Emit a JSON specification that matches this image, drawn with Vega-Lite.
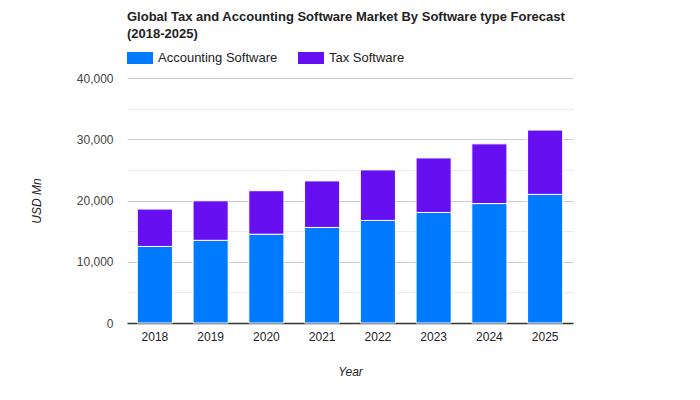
{
  "$schema": "https://vega.github.io/schema/vega-lite/v6.json",
  "width": 446,
  "height": 245,
  "autosize": {"type": "none"},
  "padding": {"left": 127, "top": 78, "right": 127, "bottom": 77},
  "background": "white",
  "title": {
    "text": ["Global Tax and Accounting Software Market By Software type Forecast", "(2018-2025)"],
    "anchor": "start",
    "frame": "group",
    "font": "Arial, Liberation Sans",
    "fontSize": 13,
    "fontWeight": "bold",
    "color": "#222222",
    "lineHeight": 17,
    "offset": 4
  },
  "config": {
    "view": {"stroke": null},
    "font": "Arial, Liberation Sans"
  },
  "data": {
    "values": [
      {"Year": "2018", "Type": "Accounting Software", "Value": 12500, "Order": 1},
      {"Year": "2018", "Type": "Tax Software", "Value": 6100, "Order": 2},
      {"Year": "2019", "Type": "Accounting Software", "Value": 13500, "Order": 1},
      {"Year": "2019", "Type": "Tax Software", "Value": 6450, "Order": 2},
      {"Year": "2020", "Type": "Accounting Software", "Value": 14500, "Order": 1},
      {"Year": "2020", "Type": "Tax Software", "Value": 7100, "Order": 2},
      {"Year": "2021", "Type": "Accounting Software", "Value": 15600, "Order": 1},
      {"Year": "2021", "Type": "Tax Software", "Value": 7600, "Order": 2},
      {"Year": "2022", "Type": "Accounting Software", "Value": 16750, "Order": 1},
      {"Year": "2022", "Type": "Tax Software", "Value": 8250, "Order": 2},
      {"Year": "2023", "Type": "Accounting Software", "Value": 18050, "Order": 1},
      {"Year": "2023", "Type": "Tax Software", "Value": 8900, "Order": 2},
      {"Year": "2024", "Type": "Accounting Software", "Value": 19500, "Order": 1},
      {"Year": "2024", "Type": "Tax Software", "Value": 9750, "Order": 2},
      {"Year": "2025", "Type": "Accounting Software", "Value": 21000, "Order": 1},
      {"Year": "2025", "Type": "Tax Software", "Value": 10500, "Order": 2}
    ]
  },
  "mark": {"type": "bar", "stroke": "white", "strokeWidth": 1},
  "encoding": {
    "x": {
      "field": "Year",
      "type": "ordinal",
      "scale": {"paddingInner": 0.37, "paddingOuter": 0.185},
      "axis": {
        "title": "Year",
        "titleFontStyle": "italic",
        "titleFontWeight": "normal",
        "titleFontSize": 12,
        "titleColor": "#222222",
        "titlePadding": 24,
        "labelAngle": 0,
        "labelFontSize": 12,
        "labelColor": "#222222",
        "labelPadding": 8,
        "ticks": false,
        "domainColor": "#333333",
        "domainWidth": 1.5,
        "grid": false
      }
    },
    "y": {
      "field": "Value",
      "type": "quantitative",
      "stack": "zero",
      "scale": {"domain": [0, 40000], "nice": false},
      "axis": {
        "title": "USD Mn",
        "titleFontStyle": "italic",
        "titleFontWeight": "normal",
        "titleFontSize": 12,
        "titleColor": "#222222",
        "titlePadding": 33,
        "values": [0, 5000, 10000, 15000, 20000, 25000, 30000, 35000, 40000],
        "labelExpr": "datum.value % 10000 === 0 ? format(datum.value, ',') : ''",
        "labelFontSize": 12,
        "labelColor": "#444444",
        "labelPadding": 14,
        "ticks": false,
        "domain": false,
        "gridColor": {"condition": {"test": "datum.value % 10000 === 0", "value": "#cccccc"}, "value": "#ebebeb"}
      }
    },
    "color": {
      "field": "Type",
      "type": "nominal",
      "scale": {"domain": ["Accounting Software", "Tax Software"], "range": ["#007bff", "#6610f2"]},
      "legend": {
        "title": null,
        "orient": "top",
        "direction": "horizontal",
        "symbolType": "M-1,-0.46H1V0.46H-1Z",
        "symbolSize": 676,
        "symbolStrokeWidth": 0,
        "labelFontSize": 13,
        "labelColor": "#222222",
        "columnPadding": 20,
        "labelOffset": 5,
        "offset": 13
      }
    },
    "order": {"field": "Order", "type": "quantitative"}
  }
}
